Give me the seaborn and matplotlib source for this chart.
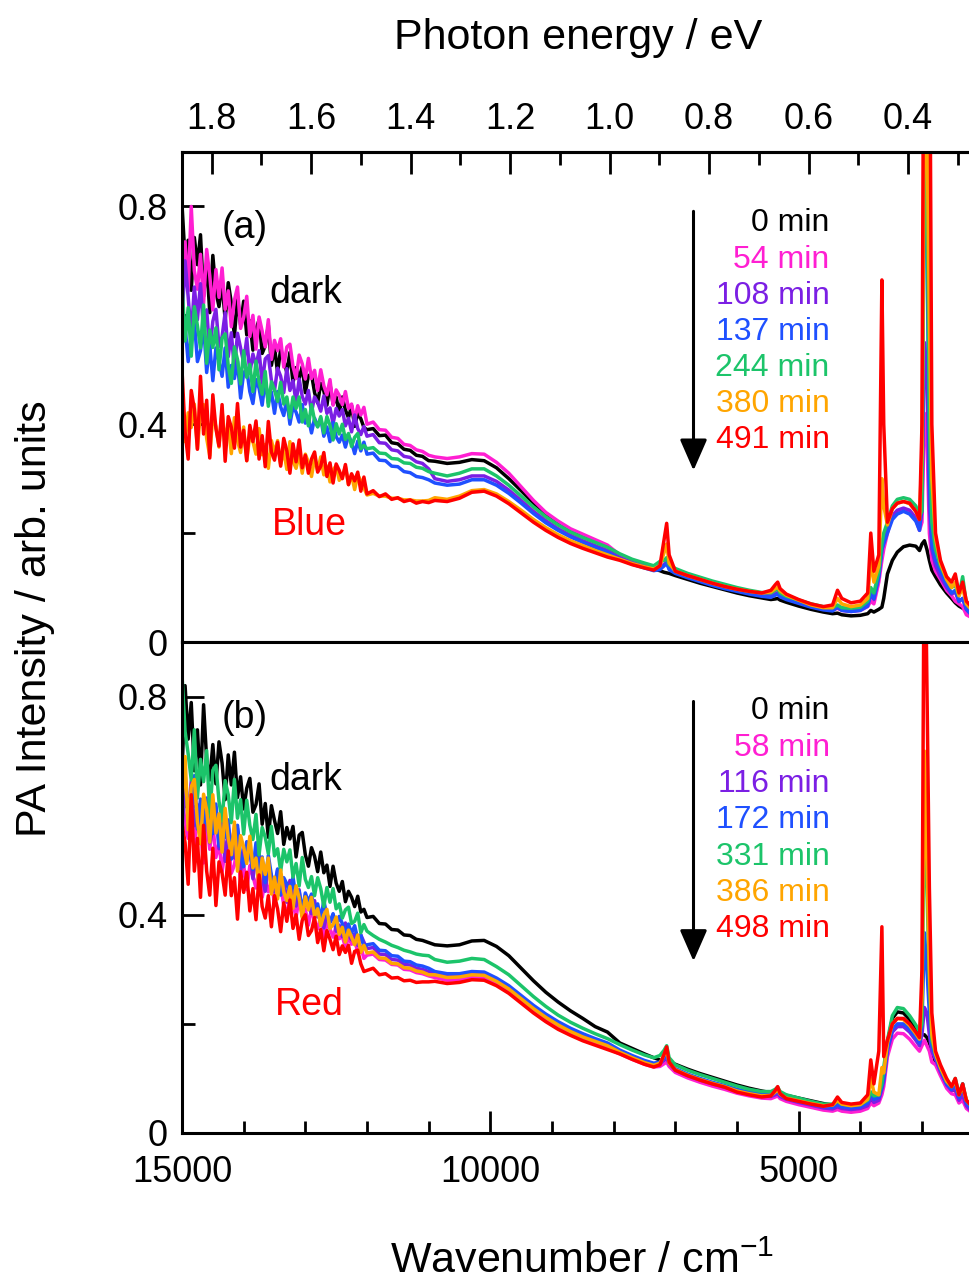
import matplotlib
matplotlib.use("Agg")
import matplotlib.pyplot as plt
import seaborn as sns
import pandas as pd
from matplotlib.ticker import FixedLocator, MultipleLocator, FuncFormatter

# ---------------- data ----------------
WN = [
    15000, 14950, 14900, 14850, 14800, 14750, 14700, 14650, 14600, 14550,
    14500, 14450, 14400, 14350, 14300, 14250, 14200, 14150, 14100, 14050,
    14000, 13950, 13900, 13850, 13800, 13750, 13700, 13650, 13600, 13550,
    13500, 13450, 13400, 13350, 13300, 13250, 13200, 13150, 13100, 13050,
    13000, 12950, 12900, 12850, 12800, 12750, 12700, 12650, 12600, 12550,
    12500, 12450, 12400, 12350, 12300, 12250, 12200, 12150, 12100, 12050,
    12000,
    11900, 11800, 11700, 11600, 11500, 11400, 11300, 11200, 11100, 11000,
    10900, 10700, 10500, 10300, 10100, 9900, 9700, 9500, 9300, 9100, 8900, 8700, 8500, 8300, 8100,
    7900, 7700, 7500, 7350, 7250, 7180, 7140, 7100,
    7000, 6800, 6600, 6400, 6200, 6000, 5800, 5600,
    5450, 5380, 5340, 5300, 5200, 5000, 4800, 4600,
    4450, 4370, 4300, 4150, 4000, 3880, 3830, 3780,
    3700, 3650, 3620, 3560, 3480, 3400, 3300, 3200,
    3100, 3040, 3000, 2960, 2920, 2880, 2840, 2780,
    2700, 2600, 2520, 2460, 2400, 2340, 2280, 2200, 2100,
]

TIMES_A = ["0 min", "54 min", "108 min", "137 min", "244 min", "380 min", "491 min"]
TIMES_B = ["0 min", "58 min", "116 min", "172 min", "331 min", "386 min", "498 min"]
COLORS = ["#000000", "#ff1fd2", "#7b1fe4", "#1f50ff", "#1cc46a", "#ffa500", "#ff0000"]

# panel (a): Blue irradiation
A_0 = [.803, .704, .738, .646, .743, .693, .748, .635, .697, .605,
       .71, .643, .616, .659, .592, .66, .623, .561, .634, .582,
       .626, .564, .59, .536, .574, .592, .53, .544, .582, .508,
       .542, .495, .538, .518, .495, .532, .476, .504, .484, .506,
       .458, .489, .492, .458, .439, .475, .461, .435, .473, .437,
       .45, .42, .45, .426, .412, .434, .396, .42, .41, .394,
       .39,
       .392, .379, .380, .366, .364, .354, .352, .343, .341, .333,
       .332, .328, .33, .335, .333, .32, .30, .278, .255, .236, .22, .206, .195, .185, .175,
       .158, .148, .14, .134, .131, .128, .127, .126,
       .122, .115, .108, .102, .096, .09, .085, .081,
       .078, .079, .08, .077, .073, .066, .06, .055,
       .052, .053, .05, .048, .049, .052, .058, .055,
       .06, .064, .08, .125, .15, .165, .175, .178,
       .176, .168, .18, .186, .17, .15, .132, .12,
       .105, .09, .08, .072, .066, .062, .058, .052, .048]
A_54 = [.671, .735, .645, .80, .682, .648, .712, .622, .721, .673,
        .61, .684, .633, .687, .611, .645, .579, .628, .652, .576,
        .596, .635, .561, .60, .538, .597, .571, .542, .592, .519,
        .554, .535, .557, .505, .542, .547, .506, .484, .527, .511,
        .483, .521, .484, .499, .462, .50, .471, .454, .482, .435,
        .463, .453, .436, .46, .429, .437, .408, .434, .417, .431,
        .40,
        .404, .39, .389, .376, .374, .363, .361, .353, .35, .343,
        .34, .337, .34, .346, .345, .33, .31, .285, .26, .238, .222, .208, .198, .188, .178,
        .16, .15, .142, .136, .138, .143, .147, .137,
        .13, .122, .115, .108, .102, .097, .092, .088,
        .086, .09, .092, .087, .081, .074, .067, .061,
        .059, .062, .058, .056, .058, .065, .075, .07,
        .11, .15, .17, .2, .232, .24, .243, .238,
        .225, .205, .22, .42, .38, .2, .15, .13,
        .115, .095, .085, .075, .07, .065, .05, .045, .04]
A_108 = [.592, .70, .634, .562, .652, .592, .658, .568, .61, .532,
         .589, .611, .543, .561, .605, .524, .568, .50, .567, .54,
         .513, .558, .494, .529, .507, .535, .475, .52, .526, .48,
         .462, .503, .488, .458, .502, .462, .48, .44, .483, .451,
         .437, .462, .422, .45, .44, .424, .452, .42, .43, .401,
         .429, .415, .427, .397, .411, .386, .417, .392, .381, .396,
         .378,
         .381, .366, .365, .353, .351, .341, .339, .331, .328, .318,
         .30, .295, .298, .305, .305, .295, .279, .26, .24, .223, .208, .196, .186, .177, .168,
         .155, .146, .139, .134, .137, .142, .146, .135,
         .128, .12, .113, .106, .1, .095, .09, .086,
         .084, .088, .09, .085, .08, .073, .066, .061,
         .059, .063, .059, .057, .059, .069, .085, .078,
         .12, .17, .185, .205, .232, .242, .246, .242,
         .228, .21, .24, .55, .5, .25, .17, .14,
         .12, .1, .088, .092, .074, .08, .06, .05, .045]
A_137 = [.545, .58, .515, .565, .59, .515, .535, .585, .495, .545,
         .48, .54, .516, .488, .54, .468, .508, .484, .516, .448,
         .495, .50, .46, .438, .482, .466, .435, .482, .439, .459,
         .42, .46, .432, .416, .446, .40, .432, .422, .404, .436,
         .402, .411, .384, .411, .396, .411, .378, .395, .368, .403,
         .377, .367, .38, .358, .379, .367, .346, .369, .351, .367,
         .345,
         .347, .334, .333, .323, .322, .313, .311, .304, .302, .298,
         .292, .288, .29, .298, .298, .288, .273, .255, .236, .219, .205, .193, .183, .174, .165,
         .152, .143, .136, .131, .133, .14, .145, .133,
         .126, .118, .111, .104, .098, .093, .088, .084,
         .082, .086, .088, .083, .078, .071, .064, .059,
         .057, .064, .058, .056, .058, .066, .09, .08,
         .12, .17, .18, .2, .225, .235, .24, .235,
         .222, .205, .25, .95, .76, .3, .18, .15,
         .13, .105, .09, .095, .075, .08, .06, .05, .045]
A_244 = [.66, .553, .614, .525, .616, .581, .54, .619, .512, .573,
         .541, .577, .50, .558, .566, .507, .475, .542, .519, .474,
         .535, .486, .51, .46, .516, .477, .455, .497, .433, .478,
         .463, .442, .477, .437, .45, .412, .45, .429, .45, .404,
         .427, .397, .436, .407, .395, .414, .384, .414, .398, .371,
         .401, .382, .40, .372, .383, .359, .376, .383, .355, .361,
         .355,
         .357, .347, .346, .337, .336, .329, .328, .321, .319, .313,
         .31, .305, .31, .318, .318, .305, .288, .268, .248, .23, .215, .202, .192, .183, .174,
         .162, .152, .145, .14, .148, .15, .155, .142,
         .135, .126, .119, .112, .106, .1, .095, .091,
         .09, .095, .098, .09, .084, .077, .07, .065,
         .063, .068, .063, .062, .064, .075, .1, .09,
         .13, .18, .2, .22, .25, .262, .265, .262,
         .25, .232, .24, .9, .85, .4, .22, .17,
         .14, .115, .1, .105, .085, .12, .07, .06, .055]
A_380 = [.455, .368, .421, .394, .437, .355, .423, .436, .374, .342,
         .414, .396, .358, .424, .37, .40, .346, .412, .37, .348,
         .395, .333, .38, .368, .345, .392, .344, .363, .319, .37,
         .347, .37, .326, .352, .317, .368, .332, .319, .345, .31,
         .345, .33, .304, .337, .315, .34, .307, .323, .294, .316,
         .324, .297, .304, .322, .289, .307, .28, .307, .296, .283,
         .27,
         .273, .268, .268, .264, .264, .261, .261, .259, .259, .26,
         .265, .262, .268, .278, .28, .272, .258, .242, .225, .21, .197, .186, .177, .168, .16,
         .152, .144, .138, .134, .14, .165, .18, .145,
         .13, .122, .115, .108, .102, .097, .093, .09,
         .092, .098, .1, .094, .086, .077, .068, .063,
         .063, .08, .07, .065, .068, .08, .15, .11,
         .14, .3, .25, .215, .245, .255, .258, .254,
         .24, .225, .35, 1.0, .95, .6, .3, .19,
         .145, .115, .1, .11, .085, .1, .07, .06, .05]
A_491 = [.50, .386, .336, .462, .428, .354, .488, .382, .444, .338,
         .454, .392, .36, .436, .332, .414, .394, .356, .438, .358,
         .389, .333, .398, .368, .406, .336, .379, .322, .405, .349,
         .334, .367, .323, .374, .351, .31, .364, .331, .371, .32,
         .343, .31, .336, .349, .312, .323, .348, .304, .329, .292,
         .327, .315, .30, .326, .289, .309, .296, .312, .277, .303,
         .272,
         .278, .267, .272, .262, .265, .258, .261, .255, .258, .256,
         .26, .258, .264, .275, .277, .268, .254, .237, .22, .205, .192, .181, .172, .164, .156,
         .15, .142, .136, .132, .14, .19, .218, .16,
         .13, .122, .115, .108, .102, .097, .093, .09,
         .095, .105, .11, .098, .088, .078, .07, .065,
         .068, .095, .08, .072, .075, .09, .2, .13,
         .16, .665, .4, .22, .245, .255, .258, .255,
         .24, .225, .4, 1.5, 1.5, 1.3, .4, .2,
         .15, .12, .11, .125, .09, .11, .075, .065, .055]

# panel (b): Red irradiation
B_0 = [.66, .82, .722, .789, .664, .739, .638, .785, .684, .647,
       .712, .64, .717, .678, .611, .693, .638, .698, .615, .653,
       .594, .632, .65, .588, .602, .64, .566, .604, .542, .60,
       .573, .549, .589, .529, .56, .539, .562, .506, .546, .551,
       .51, .489, .523, .507, .479, .515, .477, .491, .452, .489,
       .458, .443, .461, .424, .443, .432, .415, .434, .405, .41,
       .395,
       .397, .384, .383, .373, .372, .363, .362, .355, .353, .349,
       .345, .343, .345, .352, .353, .342, .325, .302, .279, .258, .24, .224, .21, .195, .185,
       .165, .155, .145, .138, .134, .132, .131, .13,
       .126, .117, .109, .102, .095, .088, .082, .077,
       .074, .073, .073, .072, .069, .064, .059, .054,
       .051, .05, .048, .046, .047, .05, .055, .058,
       .065, .085, .11, .165, .21, .222, .22, .208,
       .19, .178, .18, .18, .175, .165, .15, .13,
       .11, .088, .078, .08, .062, .075, .05, .04, .035]
B_58 = [.63, .565, .54, .585, .52, .59, .555, .495, .57, .52,
        .566, .505, .532, .479, .518, .537, .476, .491, .53, .457,
        .492, .446, .49, .471, .449, .487, .432, .461, .442, .465,
        .418, .449, .452, .418, .399, .435, .421, .395, .433, .397,
        .41, .381, .411, .388, .374, .397, .359, .384, .374, .359,
        .379, .356, .361, .34, .359, .346, .356, .33, .342, .32,
        .326,
        .328, .318, .317, .309, .308, .300, .299, .294, .292, .288,
        .285, .28, .281, .285, .284, .273, .259, .241, .223, .207, .193, .181, .171, .163, .155,
        .145, .135, .126, .121, .122, .127, .13, .122,
        .111, .101, .093, .086, .08, .073, .068, .064,
        .063, .066, .068, .063, .058, .052, .047, .042,
        .04, .043, .04, .038, .04, .045, .055, .05,
        .055, .07, .085, .14, .172, .183, .182, .172,
        .158, .15, .16, .17, .16, .15, .13, .125,
        .105, .082, .072, .07, .055, .06, .045, .038, .033]
B_116 = [.555, .638, .584, .645, .563, .602, .531, .586, .614, .532,
         .556, .597, .521, .562, .498, .56, .534, .504, .558, .481,
         .52, .499, .522, .466, .506, .511, .467, .443, .489, .471,
         .442, .482, .444, .461, .423, .463, .433, .416, .446, .398,
         .428, .418, .402, .426, .396, .404, .376, .402, .386, .40,
         .37, .381, .36, .385, .363, .354, .365, .344, .363, .35,
         .338,
         .34, .328, .327, .318, .317, .309, .308, .302, .30, .296,
         .292, .288, .289, .293, .292, .281, .267, .249, .231, .215, .201, .189, .179, .17, .162,
         .149, .139, .13, .125, .127, .134, .138, .127,
         .115, .105, .097, .09, .084, .077, .072, .068,
         .067, .07, .072, .067, .062, .056, .051, .046,
         .044, .048, .045, .043, .045, .05, .065, .056,
         .06, .08, .095, .15, .185, .195, .195, .185,
         .17, .16, .18, .23, .22, .18, .15, .135,
         .112, .088, .078, .08, .06, .07, .05, .04, .035]
B_172 = [.631, .659, .577, .60, .655, .557, .612, .53, .613, .581,
         .549, .603, .526, .568, .542, .574, .502, .556, .564, .508,
         .488, .534, .516, .483, .532, .485, .506, .459, .509, .472,
         .454, .484, .436, .468, .457, .437, .469, .432, .443, .408,
         .44, .424, .438, .404, .42, .392, .426, .398, .386, .402,
         .378, .397, .384, .363, .383, .366, .38, .355, .363, .341,
         .345,
         .347, .335, .334, .325, .324, .315, .314, .308, .306, .302,
         .296, .292, .292, .296, .295, .284, .27, .252, .234, .218, .204, .192, .182, .173, .165,
         .152, .142, .133, .128, .13, .138, .142, .13,
         .118, .108, .1, .093, .087, .08, .075, .071,
         .07, .074, .076, .07, .065, .059, .054, .049,
         .047, .052, .048, .046, .048, .055, .075, .062,
         .065, .085, .1, .155, .19, .2, .2, .19,
         .175, .165, .2, .367, .3, .22, .16, .14,
         .118, .09, .08, .09, .065, .09, .055, .045, .04]
B_331 = [.84, .736, .695, .647, .739, .614, .685, .644, .701, .583,
         .665, .674, .608, .572, .646, .62, .569, .648, .577, .611,
         .548, .61, .564, .538, .584, .51, .56, .542, .512, .562,
         .508, .521, .48, .52, .497, .519, .469, .494, .453, .505,
         .465, .45, .47, .435, .468, .448, .415, .45, .423, .448,
         .411, .42, .394, .409, .414, .384, .388, .403, .367, .382,
         .37,
         .362, .355, .35, .344, .34, .335, .332, .328, .326, .325,
         .318, .313, .315, .32, .318, .305, .29, .27, .25, .232, .216, .203, .192, .182, .173,
         .162, .152, .143, .138, .142, .152, .16, .138,
         .125, .115, .107, .1, .093, .086, .08, .076,
         .076, .08, .084, .076, .07, .064, .058, .053,
         .053, .058, .053, .051, .053, .06, .075, .068,
         .07, .09, .12, .17, .215, .23, .228, .215,
         .198, .185, .2, .63, .45, .28, .17, .145,
         .12, .095, .085, .1, .072, .09, .06, .05, .045]
B_386 = [.608, .69, .556, .635, .648, .571, .53, .621, .592, .533,
         .62, .55, .585, .515, .595, .54, .51, .57, .48, .545,
         .524, .494, .544, .486, .504, .45, .504, .474, .504, .438,
         .469, .429, .482, .442, .426, .452, .412, .453, .431, .394,
         .433, .409, .432, .397, .411, .38, .40, .41, .375, .382,
         .396, .364, .377, .35, .372, .359, .345, .363, .331, .344,
         .33,
         .332, .321, .320, .311, .310, .303, .302, .297, .295, .29,
         .29, .285, .286, .29, .289, .278, .264, .246, .228, .212, .198, .186, .176, .168, .16,
         .148, .138, .129, .124, .128, .143, .152, .128,
         .116, .106, .098, .091, .085, .077, .072, .068,
         .069, .075, .08, .071, .064, .059, .054, .05,
         .051, .06, .053, .05, .052, .062, .1, .075,
         .07, .12, .11, .165, .2, .21, .208, .197,
         .182, .172, .25, .7, .5, .3, .18, .145,
         .12, .095, .085, .095, .07, .085, .06, .05, .045]
B_498 = [.568, .532, .456, .62, .48, .54, .432, .564, .48, .436,
         .522, .417, .497, .476, .436, .517, .435, .468, .392, .479,
         .441, .478, .407, .448, .391, .473, .415, .394, .435, .378,
         .435, .411, .369, .422, .388, .427, .375, .40, .355, .39,
         .40, .362, .371, .395, .349, .373, .334, .371, .355, .336,
         .361, .327, .343, .331, .344, .311, .333, .335, .31, .296,
         .298,
         .302, .29, .292, .284, .285, .279, .28, .276, .277, .277,
         .278, .274, .276, .281, .28, .27, .256, .238, .22, .204, .19, .179, .169, .161, .153,
         .145, .135, .126, .121, .125, .145, .158, .13,
         .115, .105, .097, .09, .084, .075, .07, .066,
         .068, .078, .085, .072, .063, .058, .053, .049,
         .052, .066, .056, .053, .055, .07, .134, .09,
         .15, .378, .14, .17, .2, .21, .21, .2,
         .185, .175, .3, 1.2, .82, .45, .22, .15,
         .125, .1, .085, .1, .07, .09, .06, .05, .045]

SERIES_A = [A_0, A_54, A_108, A_137, A_244, A_380, A_491]
SERIES_B = [B_0, B_58, B_116, B_172, B_331, B_386, B_498]

EV_MAJOR = [1.8, 1.6, 1.4, 1.2, 1.0, 0.8, 0.6, 0.4]
EV_MINOR = [1.7, 1.5, 1.3, 1.1, 0.9, 0.7, 0.5, 0.3]
WN_MAJOR = [15000, 10000, 5000]
Y_MAJOR = [0, 0.4, 0.8]
Y_MINOR = [0.2, 0.6]


def long_frame(names, series):
    frames = [pd.DataFrame({"wn": WN, "pa": vals, "time": name})
              for name, vals in zip(names, series)]
    return pd.concat(frames, ignore_index=True)


# ---------------- style ----------------
sns.set_style("ticks")
plt.rcParams["font.family"] = ["Liberation Sans", "DejaVu Sans"]
plt.rcParams["mathtext.fontset"] = "custom"
plt.rcParams["mathtext.rm"] = "Liberation Sans"
plt.rcParams["mathtext.it"] = "Liberation Sans:italic"
for key in ["text.color", "axes.labelcolor", "xtick.color", "ytick.color", "axes.edgecolor"]:
    plt.rcParams[key] = "black"

W, H = 969, 1288
fig = plt.figure(figsize=(W / 100, H / 100), dpi=100)
left = 182 / W
width = 793 / W
axA = fig.add_axes([left, 1 - 642 / H, width, 490 / H])
axB = fig.add_axes([left, 1 - 1133 / H, width, 491 / H])

TICK_FS = 26
for ax, names, series in [(axA, TIMES_A, SERIES_A), (axB, TIMES_B, SERIES_B)]:
    df = long_frame(names, series)
    sns.lineplot(data=df, x="wn", y="pa", hue="time", hue_order=names,
                 palette=COLORS, estimator=None, sort=False, linewidth=2.5,
                 legend=False, ax=ax)
    ax.set_xlim(15000, 2140)
    ax.set_ylim(0, 0.9)
    ax.set_xlabel("")
    ax.set_ylabel("")
    for sp in ax.spines.values():
        sp.set_linewidth(2.2)
        sp.set_color("black")
    ax.spines["right"].set_visible(False)
    ax.yaxis.set_major_locator(FixedLocator(Y_MAJOR))
    ax.yaxis.set_minor_locator(FixedLocator(Y_MINOR))
    ax.yaxis.set_major_formatter(FuncFormatter(lambda v, p: "0" if v == 0 else f"{v:.1f}"))
    ax.tick_params(axis="y", which="major", direction="in", length=16, width=2,
                   labelsize=TICK_FS, pad=10, right=False, colors="black")
    ax.tick_params(axis="y", which="minor", direction="in", length=9, width=2, right=False)

# panel (a): no bottom ticks, eV axis on top
axA.tick_params(axis="x", which="both", bottom=False, top=False,
                labelbottom=False, labeltop=False)
sec = axA.secondary_xaxis("top", functions=(lambda x: x / 8065.54, lambda e: e * 8065.54))
sec.xaxis.set_major_locator(FixedLocator(EV_MAJOR))
sec.xaxis.set_minor_locator(FixedLocator(EV_MINOR))
sec.xaxis.set_major_formatter(FuncFormatter(lambda v, p: f"{v:.1f}"))
sec.tick_params(axis="x", which="major", direction="in", length=16, width=2,
                labelsize=TICK_FS, pad=11, colors="black")
sec.tick_params(axis="x", which="minor", direction="in", length=9, width=2)
sec.spines["top"].set_linewidth(2.2)

# panel (b): wavenumber axis at bottom
axB.xaxis.set_major_locator(FixedLocator(WN_MAJOR))
axB.xaxis.set_minor_locator(MultipleLocator(1000))
axB.xaxis.set_major_formatter(FuncFormatter(lambda v, p: f"{int(v)}"))
axB.tick_params(axis="x", which="major", direction="in", length=16, width=2,
                labelsize=TICK_FS, pad=16, top=False, colors="black")
axB.tick_params(axis="x", which="minor", direction="in", length=9, width=2, top=False)

# ---------------- annotations ----------------
ANN_FS = 27
TIME_FS = 23
X_TIME = 4497
X_ARROW = 6705

axA.text(14350, 0.76, "(a)", fontsize=ANN_FS, ha="left", va="center")
axA.text(13588, 0.622, "dark", fontsize=ANN_FS, ha="left", va="baseline")
axA.text(13539, 0.196, "Blue", fontsize=ANN_FS, ha="left", va="baseline", color="#ff0000")
axB.text(14350, 0.76, "(b)", fontsize=ANN_FS, ha="left", va="center")
axB.text(13588, 0.629, "dark", fontsize=ANN_FS, ha="left", va="baseline")
axB.text(13490, 0.2165, "Red", fontsize=ANN_FS, ha="left", va="baseline", color="#ff0000")

for ax, names, y0, step in [(axA, TIMES_A, 0.754, 0.0663), (axB, TIMES_B, 0.758, 0.0665)]:
    for i, (name, col) in enumerate(zip(names, COLORS)):
        ax.text(X_TIME, y0 - i * step, name, fontsize=TIME_FS, ha="right",
                va="baseline", color=col)
    ax.annotate("", xy=(X_ARROW, 0.315), xytext=(X_ARROW, 0.791),
                arrowprops=dict(arrowstyle="-|>,head_length=0.8,head_width=0.35",
                                lw=2.2, color="black", mutation_scale=24,
                                shrinkA=0, shrinkB=0))

fig.text(578 / W, 1 - 38 / H, "Photon energy / eV", ha="center", va="center", fontsize=31)
fig.text(582 / W, 1 - 1262 / H, "Wavenumber / cm$^{-1}$", ha="center", va="center", fontsize=31)
fig.text(35 / W, 1 - 619 / H, "PA Intensity / arb. units", rotation=90,
         ha="center", va="center", fontsize=31)

fig.savefig("out.png", dpi=100)
